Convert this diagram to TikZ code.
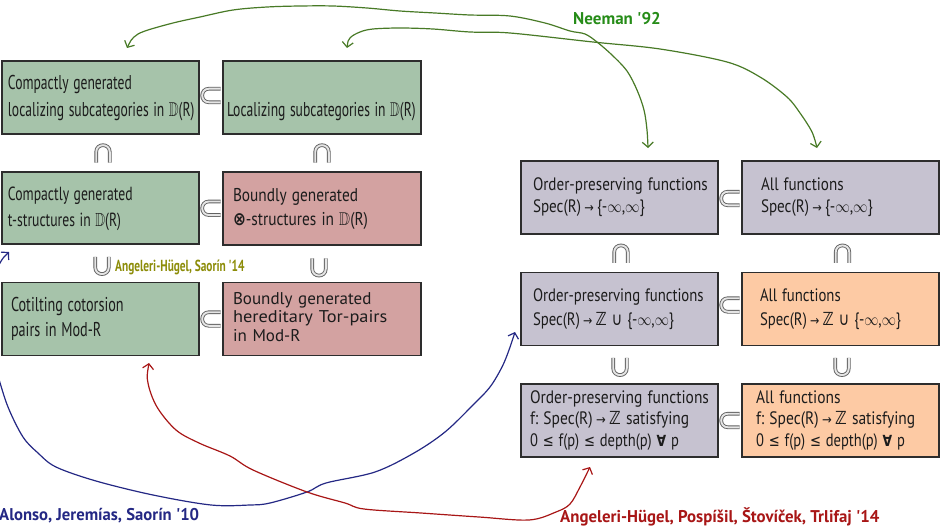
\documentclass[tikz,border=0pt]{standalone}
\usepackage{fontspec}
\usepackage{amssymb}
\usepackage{graphicx}
\setmainfont{PT Sans}
\newfontfamily\symfont{DejaVu Sans}
\usetikzlibrary{arrows.meta,calc}

\definecolor{gfill}{RGB}{166,195,170}
\definecolor{rfill}{RGB}{211,162,161}
\definecolor{pfill}{RGB}{198,194,208}
\definecolor{ofill}{RGB}{253,202,164}
\definecolor{edge}{RGB}{45,45,45}
\definecolor{ink}{RGB}{28,28,28}
\definecolor{linkgreen}{RGB}{72,122,38}
\definecolor{namegreen}{RGB}{38,140,24}
\definecolor{olivetext}{RGB}{140,140,8}
\definecolor{navy}{RGB}{36,40,132}
\definecolor{darkred}{RGB}{168,22,22}

% lines of a box, squeezed horizontally by #1
\newcommand\boxlines[2]{\scalebox{#1}[1]{\begin{tabular}{@{}l@{}}#2\end{tabular}}}
\newcommand\squeeze[2]{\scalebox{#1}[1]{#2}}
\newcommand\Dbb{$\mathbb{D}$}
\newcommand\Zbb{{\symfont\bfseries ℤ}}
\newcommand\mapto{\hspace{0.22em}\scalebox{0.75}{\symfont →}\hspace{0.22em}}
\newcommand\union{{\symfont ∪}}
\newcommand\otim{{\symfont\bfseries ⊗}}
\newcommand\leqs{{\symfont\scalebox{0.9}{≤}}}
\newcommand\forallp{{\symfont\bfseries\scalebox{0.85}{∀}}}
\newcommand\twoinf{\{-$\infty$,$\infty$\}}
\newcommand\apos{\textquotesingle}
\newcommand\depthline{\squeeze{0.94}{0 \leqs{} f(p) \leqs{} depth(p) \forallp{} p}}

\tikzset{
  box/.style={draw=edge, line width=1.2pt, minimum height=73pt, inner sep=0pt,
    align=left, text=ink},
  lab/.style={inner sep=0pt, anchor=base west, font=\bfseries\fontsize{17}{20}\selectfont},
  link/.style={line width=1.2pt, smooth, tension=0.55,
    {Straight Barb[length=5pt,width=11pt]}-{Straight Barb[length=5pt,width=11pt]}},
  hollow/.style={draw=black!62, line width=0.9pt, double=white!90!black, double distance=1.9pt},
  pics/subsetsym/.style={code={\draw[hollow] (9.5,-6.8) -- (-2,-6.8)
      .. controls (-11.07,-6.8) and (-11.07,6.8) .. (-2,6.8) -- (9.5,6.8);}},
  pics/capsym/.style={code={\draw[hollow] (-6.8,9.5) -- (-6.8,-1)
      .. controls (-6.8,-10.07) and (6.8,-10.07) .. (6.8,-1) -- (6.8,9.5);}},
  pics/cupsym/.style={code={\draw[hollow] (-6.8,-9.5) -- (-6.8,1)
      .. controls (-6.8,10.07) and (6.8,10.07) .. (6.8,1) -- (6.8,-9.5);}},
}

\begin{document}
\frenchspacing
\begin{tikzpicture}[x=1pt,y=-1pt]
\useasboundingbox (0,0) rectangle (940,527);

% left block: derived category side
\node[box, fill=gfill, minimum width=197pt, text width=185pt, font=\fontsize{20}{27}\selectfont]
  (A1) at (100.5,97.5) {\boxlines{0.68}{Compactly generated\\localizing subcategories in \Dbb(R)}};
\node[box, fill=gfill, minimum width=198pt, text width=190pt, font=\fontsize{20}{27}\selectfont]
  (A2) at (322,97.5) {\boxlines{0.68}{\\Localizing subcategories in \Dbb(R)}};
\node[box, fill=gfill, minimum width=197pt, minimum height=72pt, text width=185pt, font=\fontsize{19}{26}\selectfont]
  (B1) at (100.5,208) {\boxlines{0.72}{Compactly generated\\t-structures in \Dbb(R)}};
\node[box, fill=rfill, minimum width=198pt, text width=178pt, font=\fontsize{18.5}{24}\selectfont]
  (B2) at (322,208.5) {\boxlines{0.83}{Boundly generated\\\otim-structures in \Dbb(R)}};
\node[box, fill=gfill, minimum width=197pt, text width=179pt, font=\fontsize{20}{25}\selectfont]
  (C1) at (100.5,319) {\boxlines{0.71}{Cotilting cotorsion\\pairs in Mod-R}};
\node[box, fill=rfill, minimum width=198pt, text width=178pt, font=\fontsize{17}{18.5}\selectfont]
  (C2) at (322,319) {\boxlines{1}{Boundly generated\\\squeeze{1.08}{hereditary Tor-pairs}\\in Mod-R}};

% right block: functions on the spectrum
\node[box, fill=pfill, minimum width=197pt, text width=173pt, font=\fontsize{18}{22}\selectfont]
  (D1) at (619.5,197.5) {\boxlines{0.84}{Order-preserving functions\\Spec(R)\mapto\twoinf}};
\node[box, fill=pfill, minimum width=197pt, text width=159pt, font=\fontsize{18}{22}\selectfont]
  (D2) at (840.5,197.5) {\boxlines{0.84}{All functions\\Spec(R)\mapto\twoinf}};
\node[box, fill=pfill, minimum width=197pt, text width=173pt, font=\fontsize{18}{24}\selectfont]
  (E1) at (619.5,309) {\boxlines{0.82}{Order-preserving functions\\Spec(R)\mapto\Zbb{} \union{} \twoinf}};
\node[box, fill=ofill, minimum width=197pt, text width=161pt, font=\fontsize{18}{24}\selectfont]
  (E2) at (840.5,309) {\boxlines{0.82}{All functions\\Spec(R)\mapto\Zbb{} \union{} \twoinf}};
\node[box, fill=pfill, minimum width=197pt, text width=179pt, font=\fontsize{18}{21.5}\selectfont]
  (F1) at (619.5,420.5) {\boxlines{0.86}{Order-preserving functions\\f: Spec(R)\mapto\Zbb{} satisfying\\\depthline}};
\node[box, fill=ofill, minimum width=197pt, text width=169pt, font=\fontsize{18}{21.5}\selectfont]
  (F2) at (840.5,420.5) {\boxlines{0.86}{All functions\\f: Spec(R)\mapto\Zbb{} satisfying\\\depthline}};

% inclusion signs
\pic at ($(A1.east)!0.5!(A2.west)+(0,-2)$) {subsetsym};
\pic at ($(B1.east)!0.5!(B2.west)$) {subsetsym};
\pic at ($(C1.east)!0.5!(C2.west)$) {subsetsym};
\pic at ($(D1.east)!0.5!(D2.west)+(0,1)$) {subsetsym};
\pic at ($(E1.east)!0.5!(E2.west)+(0,-4)$) {subsetsym};
\pic at ($(F1.east)!0.5!(F2.west)$) {subsetsym};
\pic at ($(A1.south)!0.5!(B1.north)+(2.5,0)$) {capsym};
\pic at ($(A2.south)!0.5!(B2.north)$) {capsym};
\pic at ($(B1.south)!0.5!(C1.north)+(1.5,3)$) {cupsym};
\pic at ($(B2.south)!0.5!(C2.north)+(-3,4)$) {cupsym};
\pic at ($(D1.south)!0.5!(E1.north)+(1.5,0)$) {capsym};
\pic at ($(D2.south)!0.5!(E2.north)+(2,0)$) {capsym};
\pic at ($(E1.south)!0.5!(F1.north)+(0.5,2.5)$) {cupsym};
\pic at ($(E2.south)!0.5!(F2.north)+(1.5,2.5)$) {cupsym};

% ends of the correspondence arrows
\coordinate (gA1) at (127,48);
\coordinate (gD1) at (648,148);
\coordinate (gA2) at (347,48);
\coordinate (gD2) at (817,148);
\coordinate (bB1) at (9,252);
\coordinate (bE1) at (515,332);
\coordinate (rC1) at (149,363);
\coordinate (rF1) at (590,467);

% correspondences
\draw[link, linkgreen] plot coordinates {(gA1) (134,37) (145,31) (173,23) (200,17) (233,10)
  (267,7) (300,6) (333,6) (367,8) (400,11) (435,13) (470,15) (510,16) (545,23) (570,31)
  (585,34) (597,42) (612,55) (627,71) (637,90) (644,110) (647,130) (gD1)};
\draw[link, linkgreen] plot coordinates {(gA2) (350,38) (360,32) (373,29) (400,28) (433,29)
  (470,32) (510,33) (593,42) (660,49) (727,62) (760,77) (787,97) (800,113) (812,132) (gD2)};
\draw[link, navy] plot coordinates {(bB1) (0,263) (-10,285) (-14,320) (-10,352) (-3,373)
  (8,407) (23,437) (38,453) (56,467) (96,481) (153,495) (211,505) (250,505) (270,503)
  (307,492) (326,483) (375,472) (414,453) (445,432) (473,405) (490,387) (502,367) (509,350) (bE1)};
\draw[link, darkred] plot coordinates {(rC1) (148,383) (157,407) (176,430) (199,443) (230,456)
  (253,470) (307,492) (345,503) (364,509) (421,513) (479,517) (529,520) (556,512) (570,504)
  (580,487) (rF1)};

% authors
\node[lab, text=namegreen] (neeman) at (573,25) {\squeeze{1.0}{Neeman \apos92}};
\node[lab, text=olivetext, font=\bfseries\fontsize{16}{18}\selectfont] (ahs) at (115,271)
  {\squeeze{0.71}{Angeleri-Hügel, Saorín \apos14}};
\node[lab, text=navy] (ajs) at (-1,520) {\squeeze{0.98}{Alonso, Jeremías, Saorín \apos10}};
\node[lab, text=darkred] (ahpst) at (560,522) {\squeeze{0.99}{Angeleri-Hügel, Pospíšil, Štovíček, Trlifaj \apos14}};
\end{tikzpicture}
\end{document}
